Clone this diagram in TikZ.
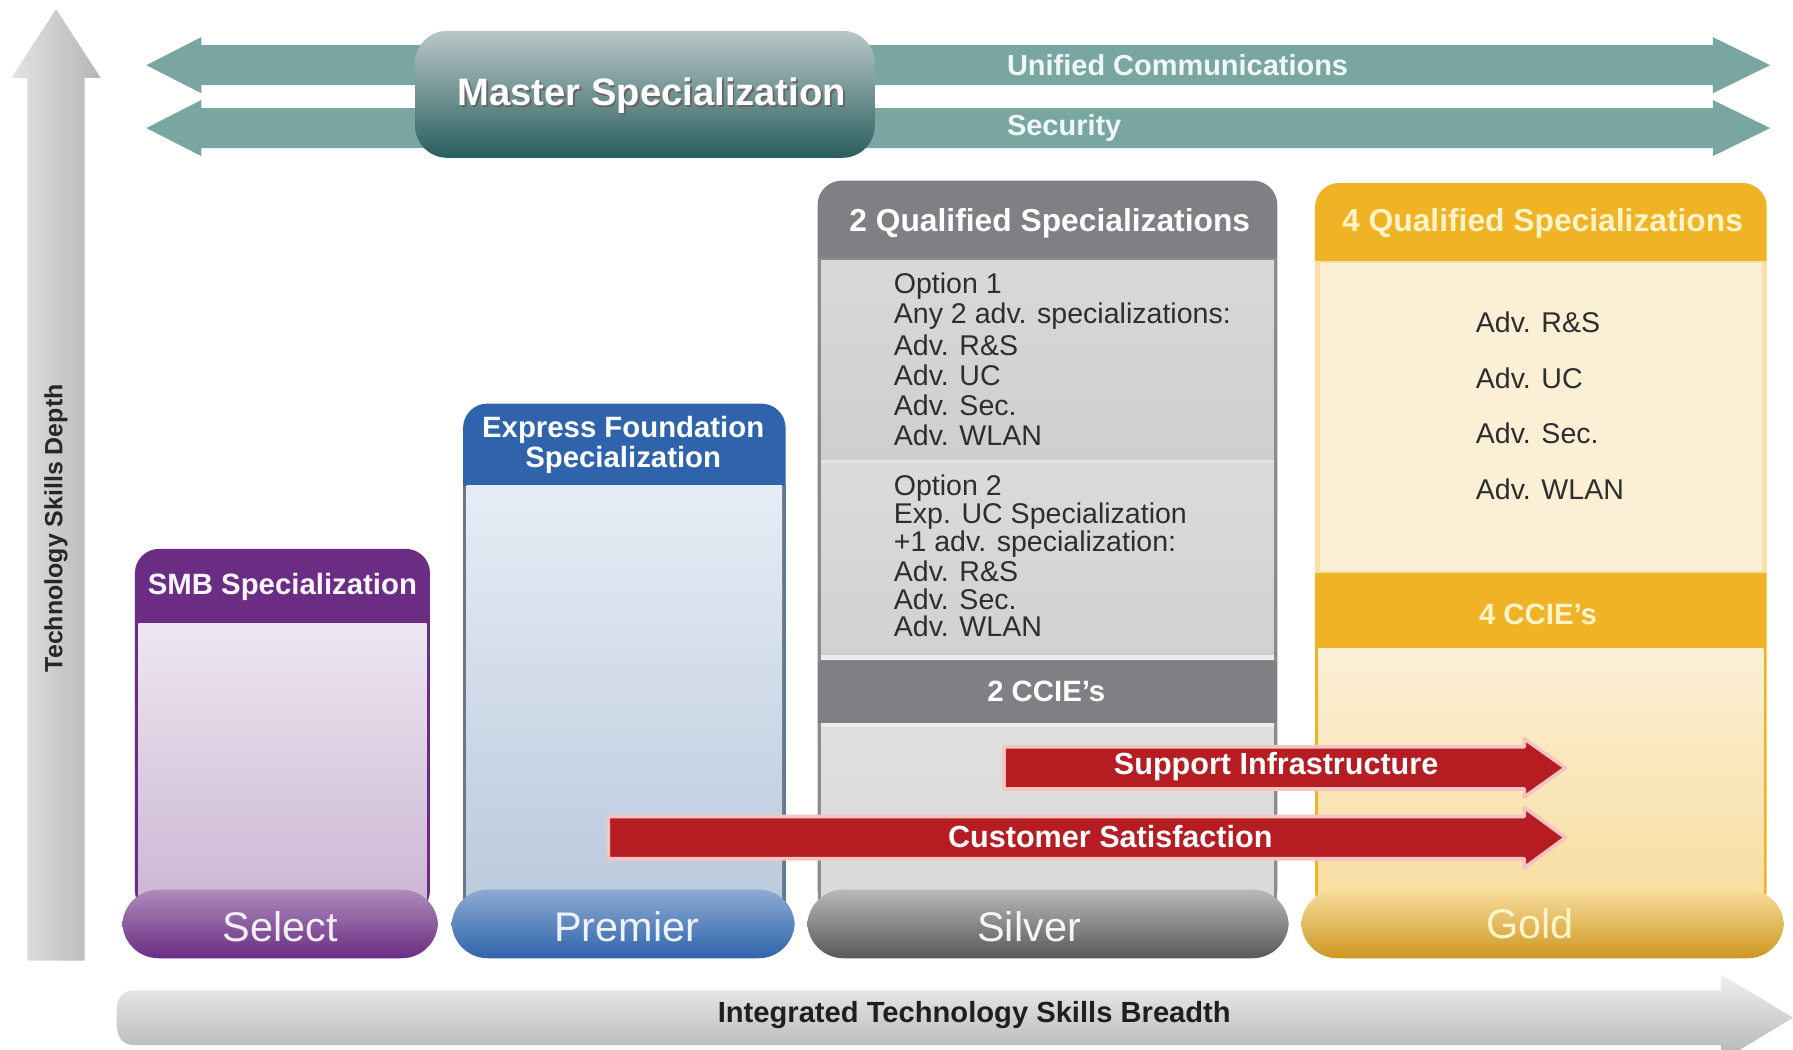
\documentclass[tikz,border=0pt]{standalone}
\usepackage{fontspec}
\setmainfont{Liberation Sans}
\definecolor{tealA}{HTML}{7AA6A1}
\definecolor{mstTop}{HTML}{B9C7C7}
\definecolor{mstMid}{HTML}{6E9292}
\definecolor{mstBot}{HTML}{2A5E5E}
\definecolor{slvHdr}{HTML}{7F8084}
\definecolor{slvBorder}{HTML}{8C8C8E}
\definecolor{slvTop}{HTML}{B8B8BA}
\definecolor{slvBot}{HTML}{58585B}
\definecolor{gldHdr}{HTML}{F0B326}
\definecolor{gldBody}{HTML}{FBEFD6}
\definecolor{purHdr}{HTML}{6A2D83}
\definecolor{bluHdr}{HTML}{2F64AC}
\definecolor{redA}{HTML}{B51D23}
\definecolor{pinkA}{HTML}{F6C4C0}
\definecolor{optTxt}{HTML}{2E2E2E}
\definecolor{paleY}{HTML}{FFF4C8}
\begin{document}
\begin{tikzpicture}[x=0.01cm,y=-0.01cm,
  hdrtxt/.style={text=white,font=\bfseries\fontsize{7.9}{9}\selectfont,inner sep=0},
  bandtxt/.style={text=white,font=\bfseries\fontsize{7.3}{7.5}\selectfont,inner sep=0,align=center},
  opttxt/.style={text=optTxt,font=\fontsize{7.1}{8}\selectfont,inner sep=0,anchor=west},
  basetxt/.style={text=white,font=\fontsize{10.3}{12}\selectfont,inner sep=0},
  redtxt/.style={text=white,font=\bfseries\fontsize{7.6}{9}\selectfont,inner sep=0},
  tealtxt/.style={text=white!94!teal,font=\bfseries\fontsize{7.2}{9}\selectfont,inner sep=0,anchor=west},
  redarrow/.style={fill=redA,draw=pinkA,line width=0.9pt,line join=round},
  ]
\useasboundingbox[fill=white] (0,0) rectangle (1568,918);

% ---------- vertical axis arrow ----------
\shade[left color=gray!22,right color=gray!58]
  (24,840) -- (24,68) -- (10,68) -- (49,8) -- (88,68) -- (74,68) -- (74,840) -- cycle;
\node[rotate=90,text=black!85,font=\bfseries\fontsize{6.2}{7}\selectfont,inner sep=0] (vlabel) at (49,462) {Technology Skills Depth};

% ---------- teal double arrows ----------
\foreach \yc/\nm in {57/uc,112/sec}{
  \fill[tealA] (128,\yc) -- (176,\yc-24.5) -- (176,\yc-17.5) -- (1498,\yc-17.5) -- (1498,\yc-24.5)
     -- (1548,\yc) -- (1498,\yc+24.5) -- (1498,\yc+17.5) -- (176,\yc+17.5) -- (176,\yc+24.5) -- cycle;
}
\node[tealtxt] (uctxt) at (880,57) {Unified Communications};
\node[tealtxt] (sectxt) at (880,112) {Security};

% ---------- master box ----------
\shade[top color=mstTop,middle color=mstMid,bottom color=mstBot,rounded corners=8] (363,27) rectangle (765,138);
\node[text=black!60,font=\bfseries\fontsize{9.5}{11}\selectfont,inner sep=0] (mastersh) at (571.5,85.5) {Master Specialization};
\node[text=white,font=\bfseries\fontsize{9.5}{11}\selectfont,inner sep=0] (master) at (570,84) {Master Specialization};

% ---------- SMB column ----------
\fill[purHdr,rounded corners=6] (118,480) rectangle (376,800);
\shade[top color=white!88!purHdr,bottom color=white!65!purHdr] (121,545) rectangle (373,800);
\node[bandtxt,text=white!95!purHdr] (smb) at (247,513) {SMB Specialization};

% ---------- Premier column ----------
\fill[bluHdr,rounded corners=6] (405,353) rectangle (687,800);
\fill[gray!70!bluHdr] (405,425) rectangle (687,800);
\shade[top color=white!88!bluHdr,bottom color=white!70!bluHdr!90!gray] (408,425) rectangle (684,800);
\node[bandtxt] (efs) at (545,389) {Express Foundation\\Specialization};

% ---------- Silver column ----------
\fill[slvHdr,rounded corners=6] (715,158) rectangle (1117,800);
\fill[slvBorder] (715,226) rectangle (1117,800);
\fill[slvHdr] (715,578) rectangle (1117,632);
\shade[top color=gray!30,bottom color=gray!38] (718,228) rectangle (1114,402);
\fill[white!80!gray] (718,402) rectangle (1114,405);
\shade[top color=gray!28,bottom color=gray!36] (718,405) rectangle (1114,573);
\fill[white!85!gray] (718,573) rectangle (1114,577);
\fill[white!85!gray] (718,632) rectangle (1114,636);
\shade[top color=gray!25,bottom color=gray!30] (718,636) rectangle (1114,800);
\node[hdrtxt] (q2) at (918,195) {2 Qualified Specializations};
\foreach \t [count=\i] in {Option 1,Any 2 adv. specializations:,Adv. R\&S,Adv. UC,Adv. Sec.,Adv. WLAN}{
  \node[opttxt] (oa\i) at (781,{250+(\i-1)*26.1}) {\t};
}
\foreach \t [count=\i] in {Option 2,Exp. UC Specialization,+1 adv. specialization:,Adv. R\&S,Adv. Sec.,Adv. WLAN}{
  \node[opttxt] (ob\i) at (781,{427+(\i-1)*24.2}) {\t};
}
\node[bandtxt] (cc2) at (915,605) {2 CCIE's};

% ---------- Gold column ----------
\fill[gldHdr,rounded corners=6] (1150,160) rectangle (1545,800);
\fill[white!60!gldHdr] (1150,228) rectangle (1545,501);
\fill[gldBody] (1154,230) rectangle (1541,499);
\shade[top color=gldBody,bottom color=white!55!gldHdr] (1153,567) rectangle (1542,800);
\node[hdrtxt,text=paleY] (q4) at (1349,195) {4 Qualified Specializations};
\foreach \t/\yy [count=\i] in {Adv. R\&S/282,Adv. UC/331,Adv. Sec./379,Adv. WLAN/428}{
  \node[opttxt] (g\i) at (1290,\yy) {\t};
}
\node[bandtxt,text=paleY] (cc4) at (1345,537) {4 CCIE's};

% ---------- bases ----------
\shade[top color=white!45!purHdr,bottom color=purHdr,rounded corners=9] (107,778) rectangle (383,838);
\shade[top color=white!45!bluHdr,bottom color=bluHdr,rounded corners=9] (395,778) rectangle (695,838);
\shade[top color=slvTop,bottom color=slvBot,rounded corners=9] (706,778) rectangle (1127,838);
\shade[top color=white!55!gldHdr,middle color=gldHdr,bottom color=gldHdr!85!black,rounded corners=9] (1138,778) rectangle (1560,838);
\node[basetxt,text=white!92!purHdr] (select) at (245,810) {Select};
\node[basetxt,text=white!92!bluHdr] (premier) at (548,810) {Premier};
\node[basetxt,text=white!92!gray] (silver) at (900,810) {Silver};
\node[basetxt,text=paleY] (gold) at (1338,808) {Gold};

% ---------- red arrows ----------
\path[redarrow] (878,653) -- (1333,653) -- (1333,646) -- (1369,671.5) -- (1333,697) -- (1333,690) -- (878,690) -- cycle;
\path[redarrow] (532,714) -- (1333,714) -- (1333,706) -- (1369,732.5) -- (1333,759) -- (1333,751) -- (532,751) -- cycle;
\node[redtxt] (supp) at (1116,670) {Support Infrastructure};
\node[redtxt] (cust) at (971,732) {Customer Satisfaction};

% ---------- horizontal axis arrow ----------
\shade[top color=gray!12,bottom color=gray!60]
  (118,866) -- (1505,866) -- (1505,852) -- (1568,890) -- (1505,928) -- (1505,914) -- (118,914)
  .. controls (106,914) and (102,906) .. (102,894) -- (102,886)
  .. controls (102,874) and (106,866) .. (118,866) -- cycle;
\node[text=black!88,font=\bfseries\fontsize{7.25}{9}\selectfont,inner sep=0] (hlabel) at (852,888) {Integrated Technology Skills Breadth};
\end{tikzpicture}
\end{document}
